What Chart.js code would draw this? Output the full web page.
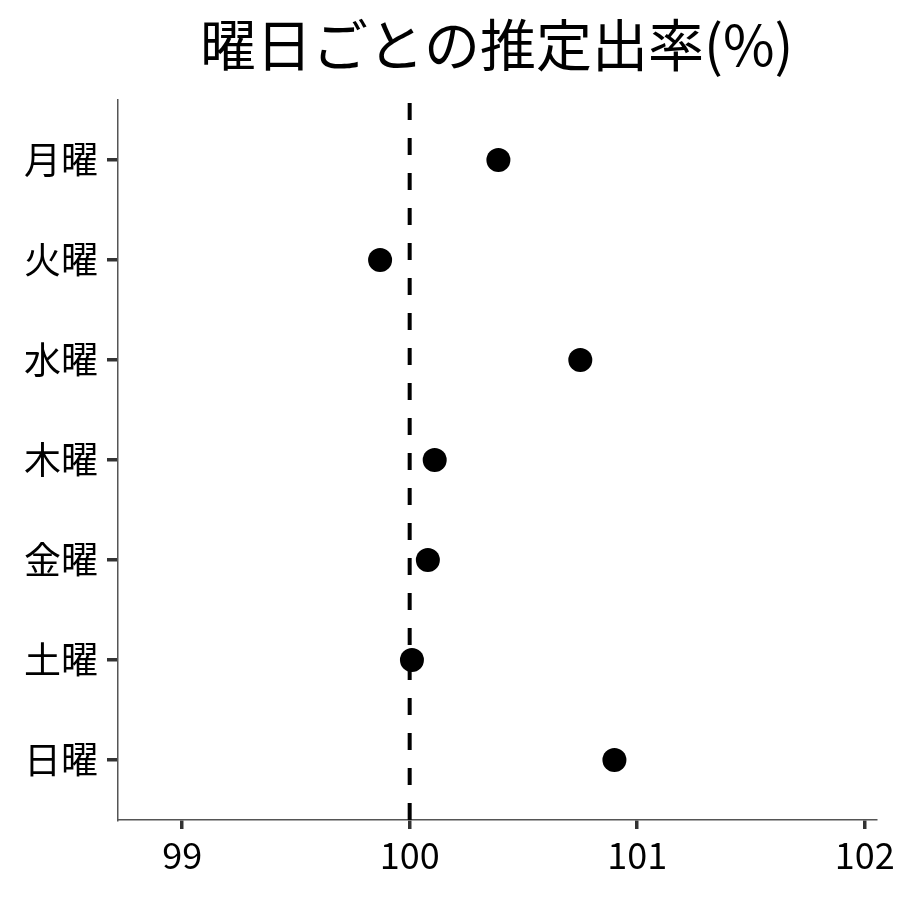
<!DOCTYPE html>
<html>
<head>
<meta charset="utf-8">
<script src="https://cdn.jsdelivr.net/npm/chart.js@4"></script>
<style>
  html, body { margin: 0; padding: 0; background: #fff; }
  #wrap { width: 900px; height: 900px; }
</style>
</head>
<body>
<div id="wrap"><canvas id="chart" width="900" height="900"></canvas></div>
<script>
// data
const days = ['月曜', '火曜', '水曜', '木曜', '金曜', '土曜', '日曜'];
const rates = [100.39, 99.87, 100.75, 100.11, 100.08, 100.01, 100.90];
const xTicks = [99, 100, 101, 102];
const refValue = 100;
const titleText = '曜日ごとの推定出率(%)';

const FONT = "'Noto Sans CJK JP', 'Noto Sans', sans-serif";

// title centred over the plot area, like the reference
const titleOverPlot = {
    id: 'titleOverPlot',
    afterDraw(chart) {
        const ctx = chart.ctx;
        const area = chart.chartArea;
        ctx.save();
        ctx.fillStyle = '#000';
        ctx.font = '56px ' + FONT;
        ctx.textAlign = 'center';
        ctx.textBaseline = 'middle';
        ctx.fillText(titleText, (area.left + area.right) / 2, 45);
        ctx.restore();
    }
};

const points = days.map(function(d, i) {
    return { x: rates[i], y: i };
});

new Chart(document.getElementById('chart').getContext('2d'), {
    type: 'scatter',
    data: {
        datasets: [{
            data: points,
            backgroundColor: '#000',
            borderWidth: 0,
            pointRadius: 12,
            order: 1
        }, {
            type: 'line',
            data: [{ x: refValue, y: 6.6 }, { x: refValue, y: -0.6 }],
            borderColor: '#000',
            borderWidth: 4,
            borderDash: [17, 18],
            pointRadius: 0,
            fill: false,
            order: 2
        }]
    },
    options: {
        responsive: false,
        animation: false,
        layout: { padding: { top: 100, right: 24, left: 0, bottom: 0 } },
        plugins: {
            legend: { display: false },
            tooltip: { enabled: false },
            title: { display: false }
        },
        scales: {
            x: {
                type: 'linear',
                min: 98.718,
                max: 102.047,
                afterBuildTicks: function(scale) {
                    scale.ticks = xTicks.map(function(v) { return { value: v }; });
                },
                afterFit: function(scale) { scale.height = 80; },
                grid: {
                    drawOnChartArea: false,
                    lineWidth: 3.5,
                    color: '#333',
                    tickLength: 9,
                    tickWidth: 3.5,
                    tickColor: '#333'
                },
                border: { display: true, color: '#555', width: 1.5 },
                ticks: {
                    color: '#000',
                    padding: 5,
                    font: { family: FONT, size: 36 }
                }
            },
            y: {
                type: 'linear',
                min: -0.6,
                max: 6.6,
                reverse: true,
                afterBuildTicks: function(scale) {
                    scale.ticks = days.map(function(d, i) { return { value: i }; });
                },
                afterFit: function(scale) { scale.width = 118; },
                grid: {
                    drawOnChartArea: false,
                    lineWidth: 3.5,
                    color: '#333',
                    tickLength: 11,
                    tickWidth: 3.5,
                    tickColor: '#333'
                },
                border: { display: true, color: '#555', width: 1.5 },
                ticks: {
                    color: '#000',
                    padding: 9,
                    font: { family: FONT, size: 37 },
                    callback: function(v) { return days[v]; }
                }
            }
        }
    },
    plugins: [titleOverPlot]
});
</script>
</body>
</html>
